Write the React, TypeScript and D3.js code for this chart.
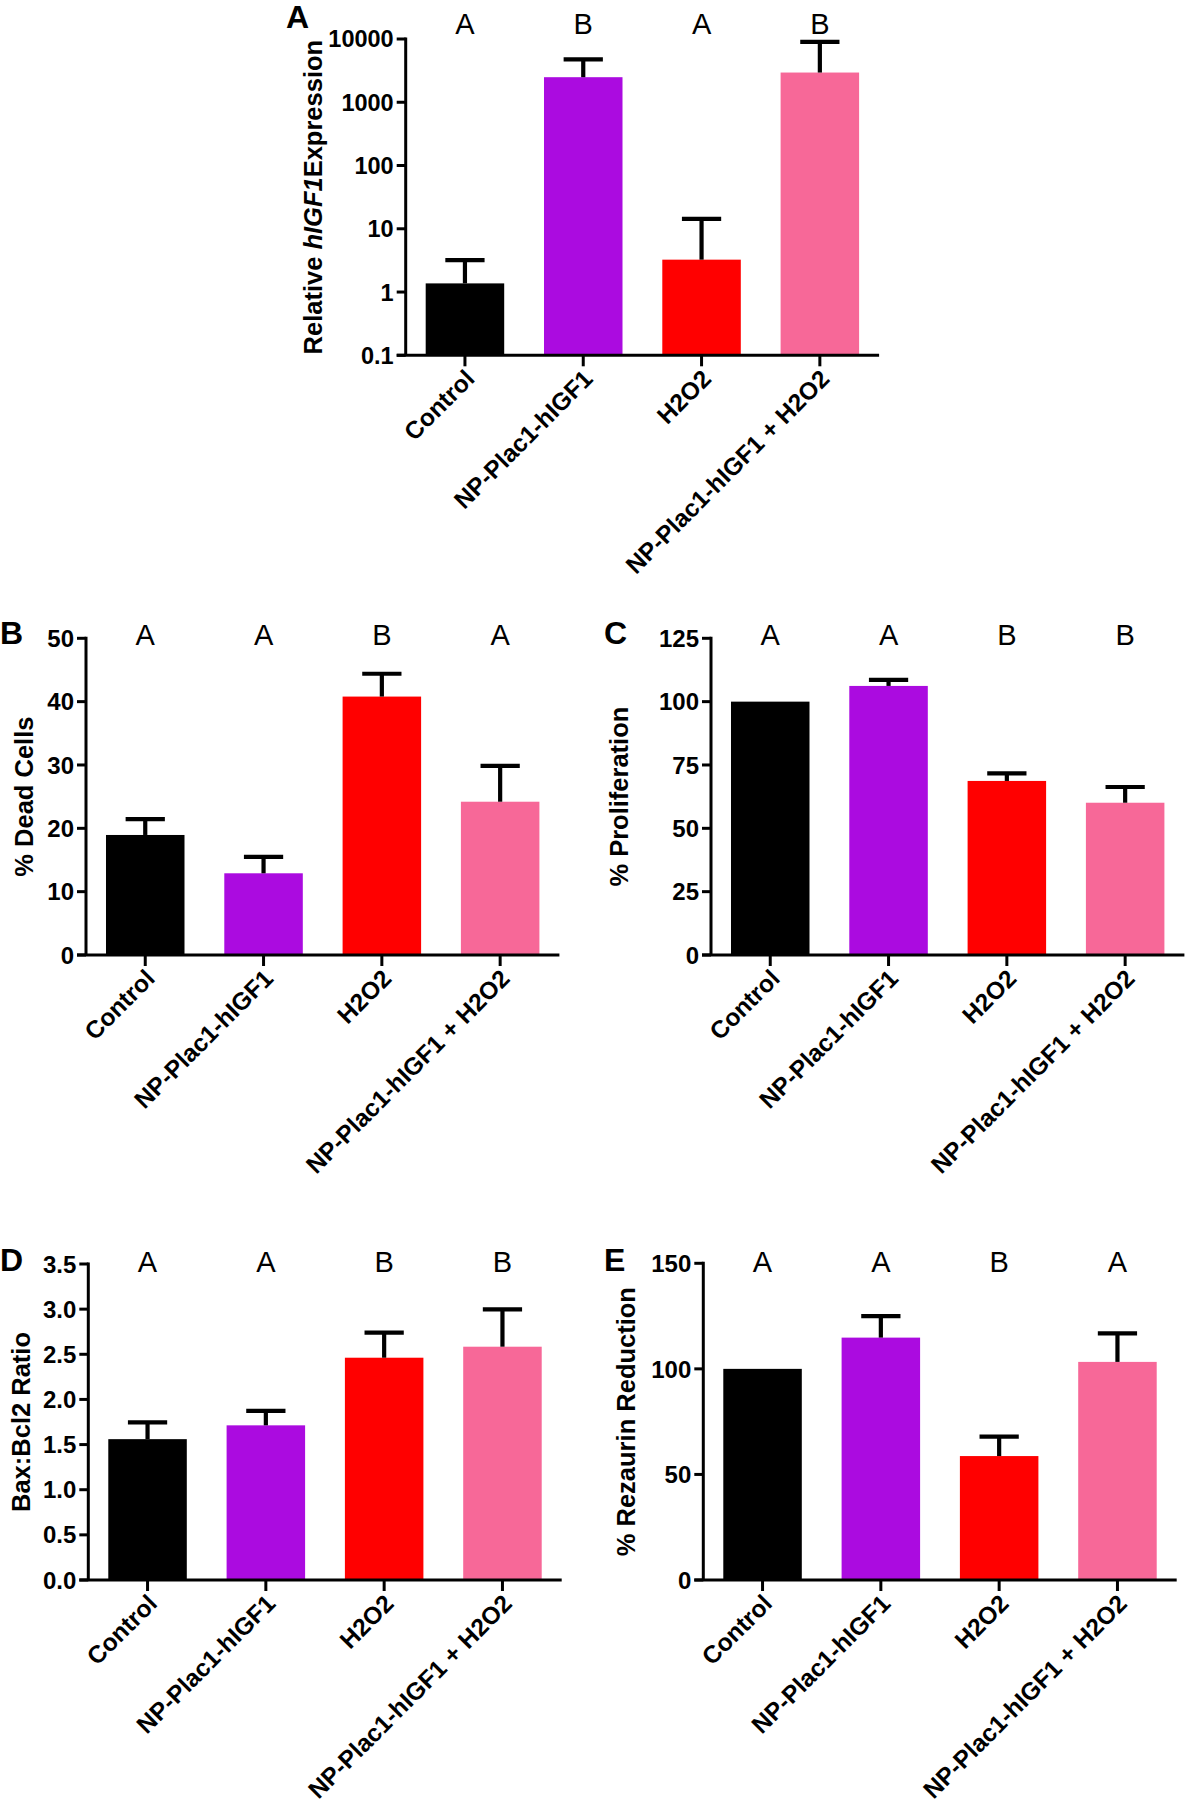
import React from "react";
import * as d3 from "d3";

// ---------- data ----------
const categories = ["Control", "NP-Plac1-hIGF1", "H2O2", "NP-Plac1-hIGF1 + H2O2"];
const barColors = ["#000000", "#AB0BE0", "#FF0000", "#F76898"];

// A: relative hIGF1 expression (log scale)
const expressionMeans = [1.37, 2490, 3.25, 2950];
const expressionSem = [1.83, 2260, 11.05, 6050];
const expressionLetters = ["A", "B", "A", "B"];
const expressionTicks = [0.1, 1, 10, 100, 1000, 10000];

// B: % dead cells
const deadMeans = [18.95, 12.9, 40.8, 24.2];
const deadSem = [2.5, 2.6, 3.6, 5.65];
const deadLetters = ["A", "A", "B", "A"];
const deadTicks = [0, 10, 20, 30, 40, 50];

// C: % proliferation
const prolifMeans = [100, 106.2, 68.7, 60.1];
const prolifSem = [0, 2.4, 3.0, 6.2];
const prolifLetters = ["A", "A", "B", "B"];
const prolifTicks = [0, 25, 50, 75, 100, 125];

// D: Bax:Bcl2 ratio
const baxMeans = [1.56, 1.713, 2.462, 2.584];
const baxSem = [0.185, 0.16, 0.277, 0.414];
const baxLetters = ["A", "A", "B", "B"];
const baxTicks = [0, 0.5, 1.0, 1.5, 2.0, 2.5, 3.0, 3.5];

// E: % rezaurin reduction
const rezMeans = [100, 114.8, 58.7, 103.3];
const rezSem = [0, 10.2, 9.2, 13.5];
const rezLetters = ["A", "A", "B", "A"];
const rezTicks = [0, 50, 100, 150];

const FONT = "'Liberation Sans', Arial, Helvetica, sans-serif";

type PanelProps = {
  panelLabel: string;
  labelX: number;
  labelY: number;
  x0: number;
  yTop: number;
  yBottom: number;
  log?: boolean;
  domain: [number, number];
  ticks: number[];
  tickFormat: (v: number) => string;
  means: number[];
  sems: number[];
  letters: string[];
  letterY: number;
  title: React.ReactNode;
  titleX: number;
  tickFont: number;
};

function Panel(p: PanelProps) {
  const tickLen = 9;
  const width = 473.4;
  const x = d3
    .scaleBand<string>()
    .domain(categories)
    .range([p.x0, p.x0 + width])
    .paddingInner(0.3364)
    .paddingOuter(0.169);
  const y = p.log
    ? d3.scaleLog().domain(p.domain).range([p.yBottom, p.yTop])
    : d3.scaleLinear().domain(p.domain).range([p.yBottom, p.yTop]);
  const bw = x.bandwidth();
  const capW = bw * 0.5;
  const base = y(p.domain[0]);
  return (
    <g>
      <text x={p.labelX} y={p.labelY} fontFamily={FONT} fontWeight="bold" fontSize={32} fill="#000">
        {p.panelLabel}
      </text>
      {/* bars */}
      {categories.map((c, i) => {
        const top = y(p.means[i]);
        return (
          <rect key={"b" + c} x={x(c)} y={top} width={bw} height={base - top} fill={barColors[i]} />
        );
      })}
      {/* error bars */}
      {categories.map((c, i) => {
        if (!p.sems[i]) return null;
        const cx = (x(c) as number) + bw / 2;
        const top = y(p.means[i]);
        const up = y(p.means[i] + p.sems[i]);
        return (
          <g key={"e" + c} stroke="#000" strokeWidth={4.2}>
            <line x1={cx} x2={cx} y1={top} y2={up} />
            <line x1={cx - capW / 2} x2={cx + capW / 2} y1={up} y2={up} />
          </g>
        );
      })}
      {/* significance letters */}
      {categories.map((c, i) => (
        <text
          key={"l" + c}
          x={(x(c) as number) + bw / 2}
          y={p.letterY}
          textAnchor="middle"
          fontFamily={FONT}
          fontSize={29}
          fill="#000"
        >
          {p.letters[i]}
        </text>
      ))}
      {/* y axis */}
      <line x1={p.x0} x2={p.x0} y1={p.yTop - 1.5} y2={p.yBottom} stroke="#000" strokeWidth={3} />
      {p.ticks.map((t) => (
        <g key={"t" + t}>
          <line x1={p.x0 - tickLen} x2={p.x0} y1={y(t)} y2={y(t)} stroke="#000" strokeWidth={3} />
          <text
            x={p.x0 - tickLen - 3}
            y={y(t)}
            dy="0.36em"
            textAnchor="end"
            fontFamily={FONT}
            fontWeight="bold"
            fontSize={p.tickFont}
            fill="#000"
          >
            {p.tickFormat(t)}
          </text>
        </g>
      ))}
      {/* x axis */}
      <line x1={p.x0 - tickLen} x2={p.x0 + width} y1={p.yBottom} y2={p.yBottom} stroke="#000" strokeWidth={3} />
      {categories.map((c) => {
        const cx = (x(c) as number) + bw / 2;
        return (
          <g key={"x" + c}>
            <line x1={cx} x2={cx} y1={p.yBottom} y2={p.yBottom + 11} stroke="#000" strokeWidth={3} />
            <text
              transform={`translate(${cx + 11},${p.yBottom + 25}) rotate(-45)`}
              textAnchor="end"
              fontFamily={FONT}
              fontWeight="bold"
              fontSize={24.5}
              fill="#000"
            >
              {c}
            </text>
          </g>
        );
      })}
      {/* y title */}
      <text
        transform={`translate(${p.titleX},${(p.yTop + p.yBottom) / 2}) rotate(-90)`}
        textAnchor="middle"
        fontFamily={FONT}
        fontWeight="bold"
        fontSize={25.5}
        fill="#000"
      >
        {p.title}
      </text>
    </g>
  );
}

export default function App() {
  const fmtLog = (v: number) => (v < 1 ? String(v) : d3.format("d")(v));
  const fmtInt = (v: number) => d3.format("d")(v);
  const fmt1 = (v: number) => d3.format(".1f")(v);
  return (
    <svg
      width={1187}
      height={1800}
      viewBox="0 0 1187 1800"
      style={{ position: "absolute", left: 0, top: 0, background: "#fff" }}
    >
      <rect x={0} y={0} width={1187} height={1800} fill="#fff" />
      <Panel
        panelLabel="A"
        labelX={286}
        labelY={28}
        x0={405.7}
        yTop={39}
        yBottom={355.3}
        log
        domain={[0.1, 10000]}
        ticks={expressionTicks}
        tickFormat={fmtLog}
        means={expressionMeans}
        sems={expressionSem}
        letters={expressionLetters}
        letterY={33.5}
        title={
          <>
            Relative <tspan fontStyle="italic">hIGF1</tspan>Expression
          </>
        }
        titleX={322}
        tickFont={23.5}
      />
      <Panel
        panelLabel="B"
        labelX={0}
        labelY={643.5}
        x0={86}
        yTop={638.3}
        yBottom={955}
        domain={[0, 50]}
        ticks={deadTicks}
        tickFormat={fmtInt}
        means={deadMeans}
        sems={deadSem}
        letters={deadLetters}
        letterY={645}
        title="% Dead Cells"
        titleX={33}
        tickFont={24}
      />
      <Panel
        panelLabel="C"
        labelX={604}
        labelY={643.5}
        x0={711}
        yTop={638.3}
        yBottom={955}
        domain={[0, 125]}
        ticks={prolifTicks}
        tickFormat={fmtInt}
        means={prolifMeans}
        sems={prolifSem}
        letters={prolifLetters}
        letterY={645}
        title="% Proliferation"
        titleX={628}
        tickFont={24}
      />
      <Panel
        panelLabel="D"
        labelX={0}
        labelY={1271}
        x0={88.3}
        yTop={1264}
        yBottom={1580}
        domain={[0, 3.5]}
        ticks={baxTicks}
        tickFormat={fmt1}
        means={baxMeans}
        sems={baxSem}
        letters={baxLetters}
        letterY={1271.7}
        title="Bax:Bcl2 Ratio"
        titleX={30}
        tickFont={24}
      />
      <Panel
        panelLabel="E"
        labelX={604}
        labelY={1271}
        x0={703.3}
        yTop={1263.3}
        yBottom={1580}
        domain={[0, 150]}
        ticks={rezTicks}
        tickFormat={fmtInt}
        means={rezMeans}
        sems={rezSem}
        letters={rezLetters}
        letterY={1271.7}
        title="% Rezaurin Reduction"
        titleX={635}
        tickFont={24}
      />
    </svg>
  );
}
